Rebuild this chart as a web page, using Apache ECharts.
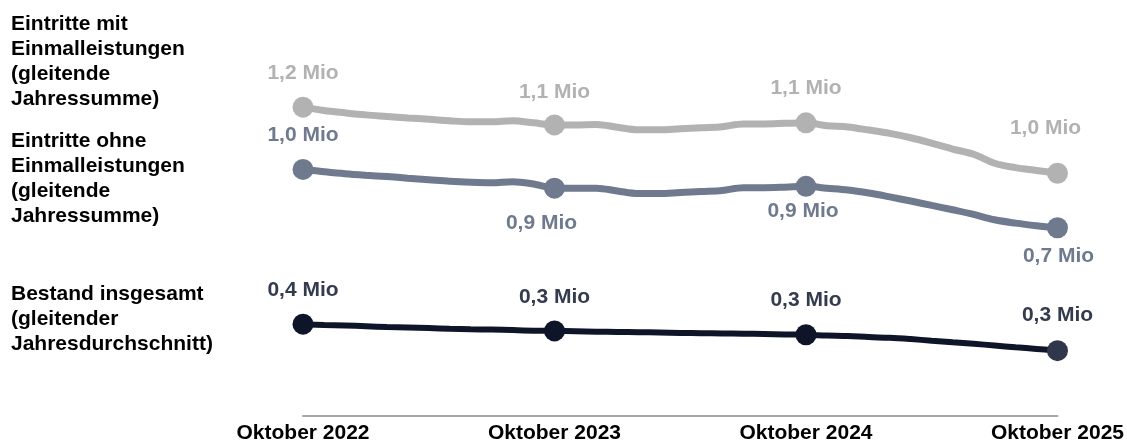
<!DOCTYPE html>
<html><head><meta charset="utf-8">
<script src="https://cdn.jsdelivr.net/npm/echarts@6/dist/echarts.min.js"></script>
<style>html,body{margin:0;padding:0;background:#fff}#c{width:1127px;height:444px}</style>
</head><body><div id="c"></div>
<script>
// Monthly categories, Oktober 2022 .. Oktober 2025
const categories = [
  'Oktober 2022','November 2022','Dezember 2022','Januar 2023','Februar 2023','März 2023','April 2023','Mai 2023','Juni 2023','Juli 2023','August 2023','September 2023',
  'Oktober 2023','November 2023','Dezember 2023','Januar 2024','Februar 2024','März 2024','April 2024','Mai 2024','Juni 2024','Juli 2024','August 2024','September 2024',
  'Oktober 2024','November 2024','Dezember 2024','Januar 2025','Februar 2025','März 2025','April 2025','Mai 2025','Juni 2025','Juli 2025','August 2025','September 2025',
  'Oktober 2025'
];
// values in Mio
const eintritteMit = [
  1.207,1.194,1.185,1.177,1.171,1.165,1.160,1.154,1.150,1.150,1.154,1.146,
  1.138,1.138,1.140,1.129,1.119,1.119,1.123,1.127,1.131,1.142,1.142,1.144,
  1.146,1.135,1.130,1.118,1.105,1.088,1.067,1.044,1.024,0.989,0.972,0.961,
  0.950
];
const eintritteOhne = [
  0.965,0.956,0.948,0.942,0.937,0.931,0.925,0.919,0.915,0.913,0.917,0.908,
  0.892,0.892,0.892,0.881,0.871,0.871,0.875,0.879,0.883,0.894,0.894,0.896,
  0.899,0.892,0.885,0.873,0.858,0.842,0.825,0.808,0.790,0.769,0.756,0.746,
  0.738
];
const bestand = [
  0.363,0.360,0.358,0.355,0.352,0.350,0.348,0.345,0.343,0.342,0.340,0.338,
  0.337,0.336,0.334,0.333,0.332,0.331,0.329,0.328,0.327,0.326,0.325,0.323,
  0.322,0.319,0.317,0.313,0.310,0.305,0.299,0.293,0.287,0.280,0.273,0.267,
  0.260
];
const mitLabels = ['1,2 Mio','1,1 Mio','1,1 Mio','1,0 Mio'];
const ohneLabels = ['1,0 Mio','0,9 Mio','0,9 Mio','0,7 Mio'];
const bestandLabels = ['0,4 Mio','0,3 Mio','0,3 Mio','0,3 Mio'];
const seriesNames = [
  'Eintritte mit\nEinmalleistungen\n(gleitende\nJahressumme)',
  'Eintritte ohne\nEinmalleistungen\n(gleitende\nJahressumme)',
  'Bestand insgesamt\n(gleitender\nJahresdurchschnitt)'
];

// ---- styling ----
const FONT = '"Liberation Sans", Arial, Helvetica, sans-serif';
const STEP = 12;
const styles = [
  { color: '#b2b2b2', labelColor: '#b2b2b2', width: 7,
    offsets: [[0,-34],[0,-33],[0,-35],[-12,-45]], markerColors: null },
  { color: '#707a8e', labelColor: '#707a8e', width: 7,
    offsets: [[0,-34],[-13,35],[-3,25],[1,28]], markerColors: null },
  { color: '#0f1529', labelColor: '#343b4e', width: 6,
    offsets: [[0,-34],[0,-34],[0,-35],[0,-35]], markerColors: [null,null,null,'#30374a'] }
];
const labelSets = [mitLabels, ohneLabels, bestandLabels];
const valueSets = [eintritteMit, eintritteOhne, bestand];

function buildData(values, labels, st) {
  return values.map((v, i) => {
    if (i % STEP !== 0) return v;
    const k = i / STEP;
    const item = {
      value: v,
      label: {
        show: true, position: 'inside', offset: st.offsets[k],
        formatter: labels[k], color: st.labelColor,
        fontSize: 21, fontWeight: 'bold', fontFamily: FONT
      }
    };
    if (st.markerColors && st.markerColors[k]) item.itemStyle = { color: st.markerColors[k] };
    return item;
  });
}

const chart = echarts.init(document.getElementById('c'), null, { renderer: 'canvas' });
chart.setOption({
  animation: false,
  backgroundColor: '#ffffff',
  grid: { left: 303, right: 67, top: 56, bottom: 24, containLabel: false },
  xAxis: {
    type: 'category', data: categories, boundaryGap: false,
    axisLine: { show: true, onZero: false, lineStyle: { color: '#a6a6a6', width: 2 } },
    axisTick: { show: false },
    splitLine: { show: false },
    axisLabel: {
      interval: STEP - 1, color: '#000', fontSize: 21, fontWeight: 'bold',
      fontFamily: FONT, margin: 7
    }
  },
  yAxis: { type: 'value', min: 0.006, max: 1.406, show: false },
  graphic: [
    { type: 'text', left: 11, top: 12, style: { text: seriesNames[0], font: 'bold 21px ' + FONT, lineHeight: 25, fill: '#000' } },
    { type: 'text', left: 11, top: 129, style: { text: seriesNames[1], font: 'bold 21px ' + FONT, lineHeight: 25, fill: '#000' } },
    { type: 'text', left: 11, top: 282, style: { text: seriesNames[2], font: 'bold 21px ' + FONT, lineHeight: 25, fill: '#000' } }
  ],
  series: valueSets.map((vals, s) => ({
    type: 'line',
    name: seriesNames[s].replace(/\n/g, ' '),
    data: buildData(vals, labelSets[s], styles[s]),
    smooth: 0.35,
    symbol: 'circle',
    showAllSymbol: true,
    symbolSize: (v, p) => (p.dataIndex % STEP === 0 ? 21 : 0),
    lineStyle: { color: styles[s].color, width: styles[s].width },
    itemStyle: { color: styles[s].color },
    label: { show: false },
    emphasis: { disabled: true },
    z: 2 + s
  }))
});
</script>
</body></html>
